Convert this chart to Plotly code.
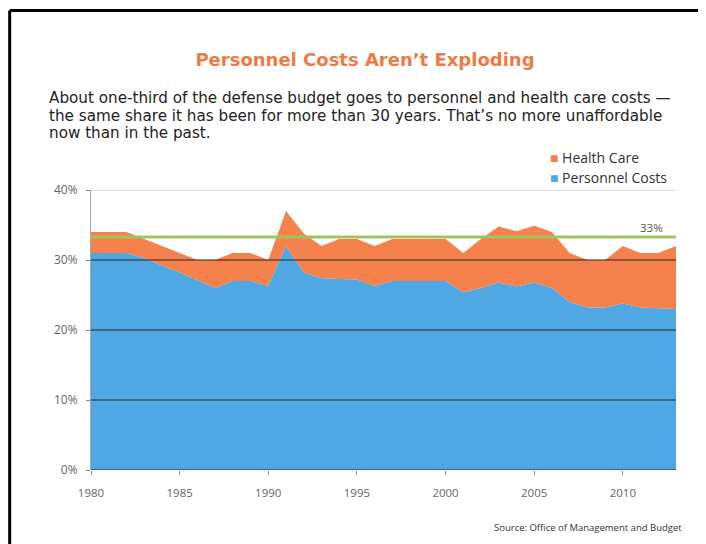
import plotly.graph_objects as go

years = list(range(1980, 2014))
personnel = [31, 31, 31, 30.3, 29.2, 28.2, 27.1, 26, 27, 27, 26.3, 32, 28.2, 27.4, 27.3, 27.2,
             26.3, 27, 27, 27, 27, 25.4, 26, 26.8, 26.2, 26.8, 26, 24, 23.2, 23.2, 23.8, 23.2,
             23.1, 23]
health = [3, 3, 3, 2.7, 2.8, 2.8, 2.9, 4, 4, 4, 3.7, 5, 5.6, 4.6, 5.7, 5.8,
          5.7, 6, 6, 6, 6, 5.6, 7, 8, 7.9, 8.1, 8, 7, 6.8, 6.8, 8.2, 7.8,
          7.9, 9]
ref_level = 33.3
ref_label = "33%"
y_ticks = [0, 10, 20, 30, 40]
y_tick_labels = ["0%", "10%", "20%", "30%", "40%"]
x_ticks = [1980, 1985, 1990, 1995, 2000, 2005, 2010]
subtitle_lines = [
    "About one-third of the defense budget goes to personnel and health care costs —",
    "the same share it has been for more than 30 years. That’s no more unaffordable",
    "now than in the past.",
]

BLUE = "#4FA8E3"
ORANGE = "#F5814D"
GREEN = "#A3C45C"
FONT = "Open Sans"
TFONT = "DejaVu Sans"

fig = go.Figure()
fig.add_trace(go.Scatter(x=years, y=personnel, name="Personnel Costs", stackgroup="one",
                         mode="none", fillcolor=BLUE, line=dict(width=0)))
fig.add_trace(go.Scatter(x=years, y=health, name="Health Care", stackgroup="one",
                         mode="none", fillcolor=ORANGE, line=dict(width=0)))
fig.add_trace(go.Scatter(x=[years[0], years[-1]], y=[ref_level, ref_level], mode="lines",
                         line=dict(color=GREEN, width=3), showlegend=False, hoverinfo="skip"))

shapes = []
for v in y_ticks:
    shapes.append(dict(type="line", xref="x", yref="y", x0=years[0], x1=years[-1], y0=v, y1=v,
                       line=dict(color="#bbbbbb" if v == 40 else "#262626", width=1.2),
                       layer="above"))
# frame (top and left edges)
shapes.append(dict(type="line", xref="paper", yref="paper", x0=-0.139, x1=1.1, y0=1.641, y1=1.641,
                   line=dict(color="black", width=3)))
shapes.append(dict(type="line", xref="paper", yref="paper", x0=-0.139, x1=-0.139, y0=1.641, y1=-0.4,
                   line=dict(color="black", width=3)))

PLOT_TOP_PX = 182   # figure px of y=40%
PLOT_H = 280
def ypaper(fig_px):
    return (PLOT_TOP_PX + PLOT_H - fig_px) / PLOT_H

annotations = []
for i, line in enumerate(subtitle_lines):
    annotations.append(dict(text=line, xref="paper", yref="paper", x=-0.075,
                            y=ypaper(90 + 17.5 * i), xanchor="left", yanchor="middle",
                            align="left", showarrow=False,
                            font=dict(family=TFONT, size=15.2, color="#222")))
annotations += [
    dict(text=f"<span style='color:{ORANGE}'>■</span> Health Care", xref="paper", yref="paper",
         x=0.782, y=ypaper(149), xanchor="left", yanchor="middle", showarrow=False,
         font=dict(family=FONT, size=14, color="#333")),
    dict(text=f"<span style='color:{BLUE}'>■</span> Personnel Costs", xref="paper", yref="paper",
         x=0.782, y=ypaper(170), xanchor="left", yanchor="middle", showarrow=False,
         font=dict(family=FONT, size=14, color="#333")),
    dict(text=ref_label, x=2011.6, y=ref_level, xref="x", yref="y", yshift=9, showarrow=False,
         font=dict(family=FONT, size=11.5, color="#555")),
    dict(text="Source: Office of Management and Budget", xref="paper", yref="paper",
         x=1.014, y=-0.207, xanchor="right", yanchor="middle", showarrow=False,
         font=dict(family=FONT, size=9.5, color="#333")),
]

fig.update_layout(
    width=698, height=536,
    margin=dict(l=83, r=30, t=182, b=74),
    paper_bgcolor="white", plot_bgcolor="white",
    showlegend=False,
    title=dict(text="<b>Personnel Costs Aren’t Exploding</b>", x=(365 - 8) / 698, xanchor="center",
               y=1 - 52 / 536, yanchor="middle",
               font=dict(family=TFONT, size=18, color="#F07A45")),
    shapes=shapes,
    annotations=annotations,
    xaxis=dict(range=[years[0], years[-1]], tickvals=x_ticks, showgrid=False, zeroline=False,
               ticks="outside", ticklen=4, tickcolor="#888", showline=False,
               ticklabelstandoff=8,
               tickfont=dict(family=FONT, size=11.5, color="#666")),
    yaxis=dict(range=[0, 40], tickvals=y_ticks, ticktext=y_tick_labels, showgrid=False,
               zeroline=False, ticks="outside", ticklen=4, tickcolor="#888", showline=True,
               linecolor="#aaa", linewidth=1, ticklabelstandoff=6,
               tickfont=dict(family=FONT, size=12, color="#666")),
)

fig.write_html("out.html")
